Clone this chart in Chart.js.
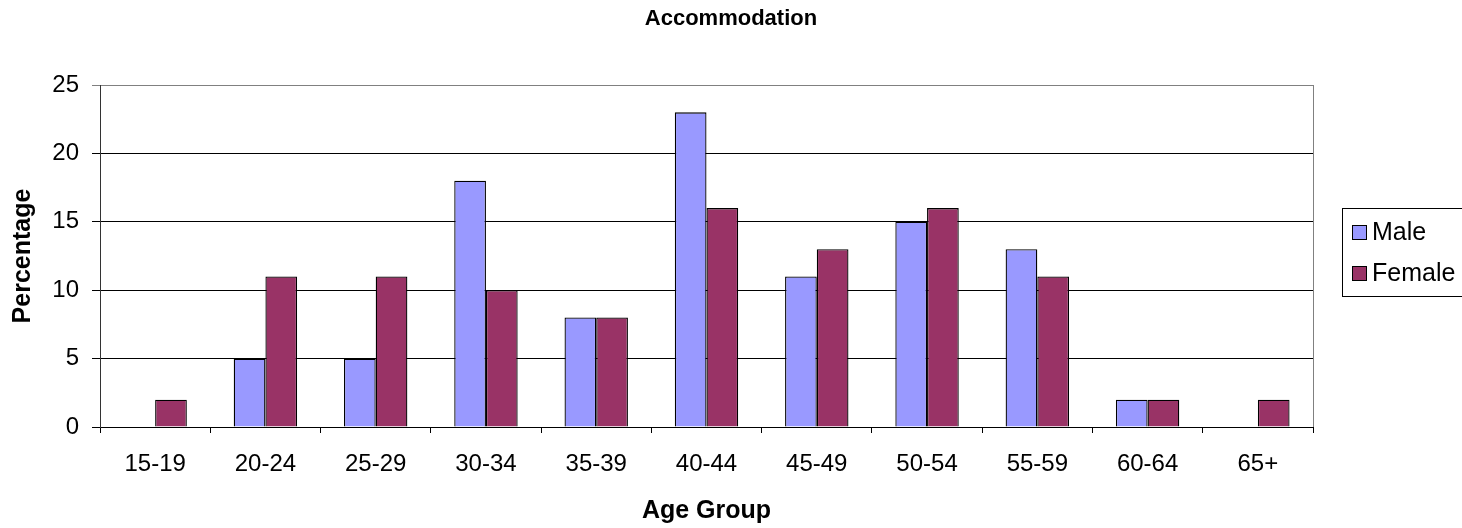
<!DOCTYPE html>
<html>
<head>
<meta charset="utf-8">
<script src="https://cdn.jsdelivr.net/npm/chart.js@4/dist/chart.umd.min.js"></script>
<style>
  html, body { margin: 0; padding: 0; background: #fff; overflow: hidden; }
  #wrap { width: 1462px; height: 528px; }
</style>
</head>
<body>
<div id="wrap"><canvas id="grafico" width="1462" height="528"></canvas></div>
<script>
// Dados
const faixas = ['15-19', '20-24', '25-29', '30-34', '35-39', '40-44', '45-49', '50-54', '55-59', '60-64', '65+'];
const homens = [0, 5, 5, 18, 8, 23, 11, 15, 13, 2, 0];
const mulheres = [2, 11, 11, 10, 8, 16, 13, 16, 11, 2, 2];
const nomesSeries = ['Male', 'Female'];
const coresSeries = ['#9999FF', '#993366'];

const FONTE = "'Liberation Sans', Arial, sans-serif";

// Legenda desenhada à mão, com caixa, à direita da área do gráfico
const legendaCaixa = {
    id: 'legendaCaixa',
    afterDraw(chart) {
        const ctx = chart.ctx;
        ctx.save();
        ctx.strokeStyle = '#000';
        ctx.lineWidth = 1;
        ctx.strokeRect(1342.5, 208.5, 130, 88);
        ctx.font = '25px ' + FONTE;
        ctx.textBaseline = 'middle';
        chart.data.datasets.forEach((ds, i) => {
            const cy = 232 + i * 41;
            ctx.fillStyle = ds.backgroundColor;
            ctx.fillRect(1352, cy - 7, 15, 15);
            ctx.strokeRect(1352.5, cy - 6.5, 14, 14);
            ctx.fillStyle = '#000';
            ctx.fillText(ds.label, 1372, cy + 1);
        });
        // borda direita da área de plotagem
        const a = chart.chartArea;
        ctx.strokeStyle = '#808080';
        ctx.beginPath();
        ctx.moveTo(Math.round(a.right) + 0.5, a.top);
        ctx.lineTo(Math.round(a.right) + 0.5, a.bottom);
        ctx.stroke();
        ctx.restore();
    }
};

const ctx = document.getElementById('grafico').getContext('2d');
new Chart(ctx, {
    type: 'bar',
    data: {
        labels: faixas,
        datasets: [
            {
                label: nomesSeries[0],
                data: homens,
                backgroundColor: coresSeries[0],
                borderColor: '#000',
                borderWidth: 1.3
            },
            {
                label: nomesSeries[1],
                data: mulheres,
                backgroundColor: coresSeries[1],
                borderColor: '#000',
                borderWidth: 1.3
            }
        ]
    },
    options: {
        responsive: false,
        animation: false,
        layout: { padding: 0 },
        categoryPercentage: 0.575,
        barPercentage: 1,
        plugins: {
            legend: { display: false },
            tooltip: { enabled: false },
            title: {
                display: true,
                text: 'Accommodation',
                color: '#000',
                font: { family: FONTE, size: 22, weight: 'bold' },
                padding: { top: 6, bottom: 52.6 }
            }
        },
        scales: {
            x: {
                afterFit(scale) { scale.height = 101; },
                grid: {
                    offset: true,
                    drawOnChartArea: false,
                    drawTicks: true,
                    tickLength: 6,
                    color: '#000'
                },
                border: { color: '#000' },
                ticks: {
                    color: '#000',
                    padding: 17,
                    maxRotation: 0,
                    font: { family: FONTE, size: 24 }
                },
                title: {
                    display: true,
                    text: 'Age Group',
                    color: '#000',
                    font: { family: FONTE, size: 25, weight: 'bold' },
                    padding: { top: 0, bottom: 2 }
                }
            },
            y: {
                min: 0,
                max: 25,
                afterFit(scale) { scale.width = 100; },
                grid: {
                    color: (c) => c.tick && c.tick.value === 25 ? '#808080' : '#000',
                    tickLength: 8,
                    drawTicks: true
                },
                border: { color: '#333' },
                ticks: {
                    stepSize: 5,
                    color: '#000',
                    padding: 13,
                    font: { family: FONTE, size: 24 }
                },
                title: {
                    display: true,
                    text: 'Percentage',
                    color: '#000',
                    font: { family: FONTE, size: 25, weight: 'bold' },
                    padding: { top: 8, bottom: 0 }
                }
            },
            // eixo vazio à direita, só para reservar o espaço da legenda
            espacoLegenda: {
                position: 'right',
                min: 0,
                max: 25,
                afterFit(scale) { scale.width = 149; },
                grid: { display: false },
                border: { display: false },
                ticks: { display: false }
            }
        }
    },
    plugins: [legendaCaixa]
});
</script>
</body>
</html>
